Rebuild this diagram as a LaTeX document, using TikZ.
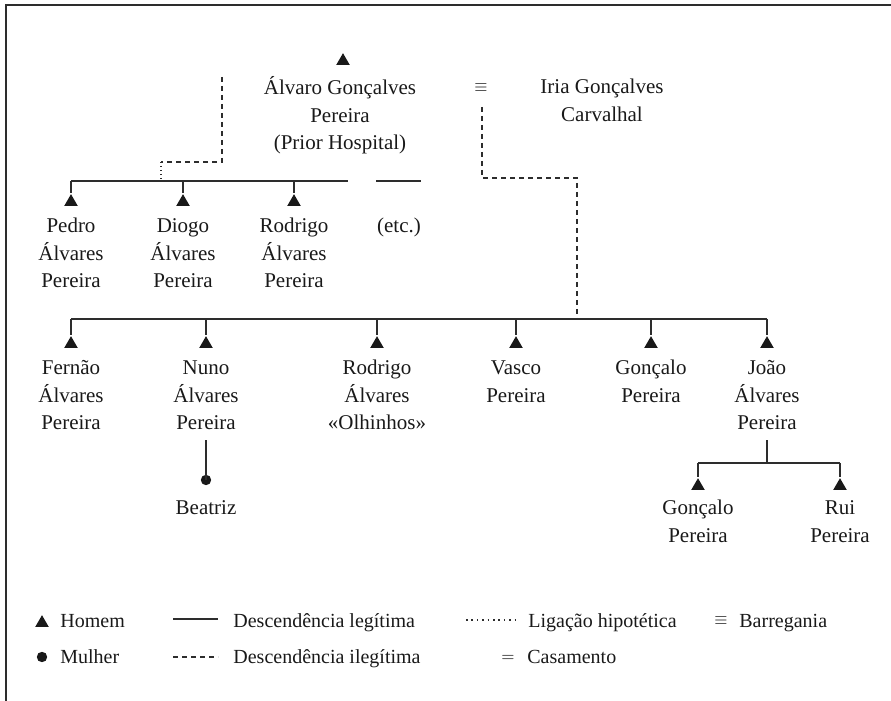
\documentclass[tikz,border=0pt]{standalone}
\usepackage{fontspec}
\setmainfont{Liberation Serif}
\usetikzlibrary{shapes.geometric}
\definecolor{lc}{RGB}{45,45,45}
\definecolor{tc}{RGB}{25,25,25}
\begin{document}
\begin{tikzpicture}[x=0.5pt,y=-0.5pt,
  tri/.style={regular polygon, regular polygon sides=3, fill=tc, draw=none, inner sep=0pt, minimum size=7.8pt},
  dotf/.style={circle, fill=tc, inner sep=0pt, minimum size=5.2pt},
  pname/.style={align=center, anchor=north, inner sep=0pt, font=\fontsize{10.5}{13.75}\selectfont, text=tc},
  ln/.style={draw=lc, line width=0.75pt},
  dsh/.style={ln, dash pattern=on 2.5pt off 2pt},
  dtt/.style={ln, dash pattern=on 0.7pt off 1.3pt},
  ldt/.style={draw=lc, line width=0.9pt, dash pattern=on 0.8pt off 1.9pt},
  leg/.style={anchor=base west, inner sep=0pt, font=\fontsize{10}{12}\selectfont, text=tc},
  sym/.style={inner sep=0pt, font=\fontsize{8}{9.6}\selectfont, text=tc}]
\useasboundingbox (0,0) rectangle (891,701);
\draw[lc, line width=1pt] (6,701) -- (6,5) -- (891,5);

% generation 1
\node[tri] (alvT) at (343,61) {};
\node[pname] (alv) at (340,75) {\strut Álvaro Gonçalves\\Pereira\\(Prior Hospital)};
\node[sym] (barr) at (481,88) {$\equiv$};
\node[pname] (iria) at (602,74) {\strut Iria Gonçalves\\Carvalhal};

% generation 2
\coordinate (b2L) at (71,181);
\coordinate (b2R) at (348,181);
\coordinate (b2eL) at (376,181);
\coordinate (b2eR) at (421,181);
\node[tri] (pedT) at (71,202) {};
\node[tri] (dioT) at (183,202) {};
\node[tri] (rodT) at (294,202) {};
\node[pname] (ped) at (71,213) {\strut Pedro\\Álvares\\Pereira};
\node[pname] (dio) at (183,213) {\strut Diogo\\Álvares\\Pereira};
\node[pname] (rod) at (294,213) {\strut Rodrigo\\Álvares\\Pereira};
\node[pname] (etc) at (399,213) {\strut (etc.)};
\draw[ln] (b2L) -- (b2R);
\draw[ln] (b2eL) -- (b2eR);
\foreach \t in {pedT,dioT,rodT} \draw[ln] (\t.north |- b2L) -- (\t.north);

% hypothetical illegitimate link
\coordinate (h1) at (222,77);
\coordinate (h2) at (161,162);
\draw[dsh] (h1) |- (h2);
\draw[dtt] (h2) -- (h2 |- b2L);

% generation 3
\coordinate (b3L) at (71,319);
\coordinate (b3R) at (767,319);
\node[tri] (ferT) at (71,344) {};
\node[tri] (nunT) at (206,344) {};
\node[tri] (roxT) at (377,344) {};
\node[tri] (vasT) at (516,344) {};
\node[tri] (gonT) at (651,344) {};
\node[tri] (joaT) at (767,344) {};
\node[pname] (fer) at (71,355) {\strut Fernão\\Álvares\\Pereira};
\node[pname] (nun) at (206,355) {\strut Nuno\\Álvares\\Pereira};
\node[pname] (rox) at (377,355) {\strut Rodrigo\\Álvares\\«Olhinhos»};
\node[pname] (vas) at (516,355) {\strut Vasco\\Pereira};
\node[pname] (gon) at (651,355) {\strut Gonçalo\\Pereira};
\node[pname] (joa) at (767,355) {\strut João\\Álvares\\Pereira};
\draw[ln] (b3L) -- (b3R);
\foreach \t in {ferT,nunT,roxT,vasT,gonT,joaT} \draw[ln] (\t.north |- b3L) -- (\t.north);

% barregania link
\coordinate (r1) at (482,107);
\coordinate (r2) at (577,178);
\draw[dsh] (r1) |- (r2) -- (r2 |- b3L);

% Beatriz
\node[dotf] (beaD) at (206,480) {};
\node[pname] (bea) at (206,495) {\strut Beatriz};
\draw[ln, shorten <=5pt] (nun.south) -- (beaD.center);

% generation 4
\coordinate (b4) at (767,463);
\coordinate (b4L) at (698,463);
\coordinate (b4R) at (840,463);
\draw[ln, shorten <=5pt] (joa.south) -- (b4);
\draw[ln] (b4L) -- (b4R);
\node[tri] (g2T) at (698,486) {};
\node[tri] (ruiT) at (840,486) {};
\node[pname] (g2) at (698,495) {\strut Gonçalo\\Pereira};
\node[pname] (rui) at (840,495) {\strut Rui\\Pereira};
\foreach \t in {g2T,ruiT} \draw[ln] (\t.north |- b4L) -- (\t.north);

% legend
\node[tri] (lgT) at (42,623) {};
\node[leg] (lgH) at (60,627) {Homem};
\node[dotf] (lgD) at (42,657) {};
\node[leg] (lgM) at (60,663) {Mulher};
\coordinate (ls1) at (173,619);
\coordinate (ls2) at (218,619);
\draw[ln] (ls1) -- (ls2);
\node[leg] (lgL) at (233,627) {Descendência legítima};
\coordinate (ld1) at (173,657);
\coordinate (ld2) at (218,657);
\draw[dsh] (ld1) -- (ld2);
\node[leg] (lgI) at (233,663) {Descendência ilegítima};
\coordinate (lh1) at (466,620);
\coordinate (lh2) at (515,620);
\draw[ldt] (lh1) -- (lh2);
\node[leg] (lgHp) at (528,627) {Ligação hipotética};
\node[sym] (lgB) at (721,621) {$\equiv$};
\node[leg] (lgBt) at (739,627) {Barregania};
\node[sym] (lgC) at (508,658) {$=$};
\node[leg] (lgCt) at (527,663) {Casamento};
\end{tikzpicture}
\end{document}
